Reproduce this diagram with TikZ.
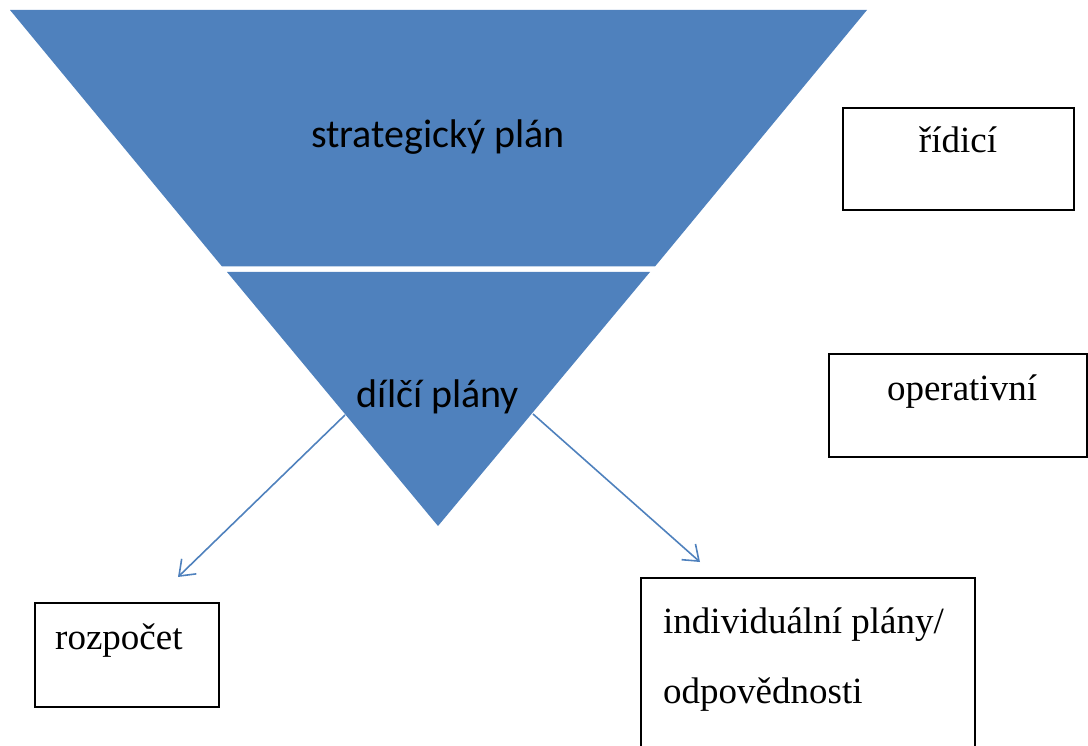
\documentclass[tikz,border=0pt]{standalone}
\usepackage{fontspec}
\setmainfont{Liberation Serif}
\newfontfamily\calib{Carlito}
\usetikzlibrary{arrows.meta}
\definecolor{ofblue}{HTML}{4F81BD}
\tikzset{
  band/.style={fill=ofblue, draw=none},
  sanslabel/.style={inner sep=0pt, anchor=base, font=\calib\fontsize{40}{48}\selectfont, text=black},
  seriflabel/.style={inner sep=0pt, anchor=base, font=\fontsize{37}{44}\selectfont, text=black},
  boxframe/.style={draw=black, line width=2pt, fill=none},
  flow/.style={draw=ofblue, line width=1.6pt, -{Straight Barb[length=14pt,width=21pt,line width=1.6pt]}}
}
\begin{document}
\begin{tikzpicture}[x=1pt, y=-1pt]
\useasboundingbox (0,0) rectangle (1088,746);
% top band
\path[band] (10,10) -- (867,10) -- (655,266.5) -- (222,266.5) -- cycle;
% lower triangle
\path[band] (227,272) -- (650,272) -- (438,526) -- cycle;
\node[sanslabel] (strat) at (438,148) {strategický plán};
\node[sanslabel] (dilci) at (438,407) {dílčí plány};
% boxes
\draw[boxframe] (843,108) rectangle (1074,210);
\node[seriflabel] (ridici) at (958,153) {řídicí};
\draw[boxframe] (829,354) rectangle (1087,457);
\node[seriflabel] (oper) at (962,400) {operativní};
\draw[boxframe] (35,603) rectangle (219,707);
\node[seriflabel, anchor=base west] (rozp) at (55,649) {rozpočet};
\draw[boxframe] (641,578) rectangle (975,770);
\node[seriflabel, anchor=base west] (indiv) at (663,633) {individuální plány/};
\node[seriflabel, anchor=base west] (odp) at (663,703) {odpovědnosti};
% arrows
\coordinate (ls) at (345,415);
\coordinate (le) at (178,577);
\coordinate (rs) at (533,414);
\coordinate (re) at (700,562);
\draw[flow] (ls) -- (le);
\draw[flow] (rs) -- (re);
\end{tikzpicture}
\end{document}
